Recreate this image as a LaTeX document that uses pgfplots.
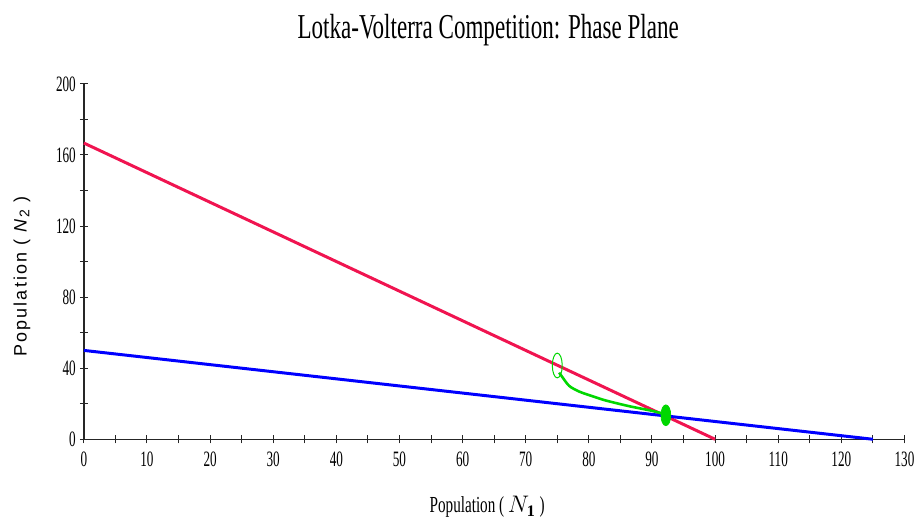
\documentclass[border=0pt]{standalone}
\usepackage{fontspec}
\setmainfont{Liberation Serif}
\newfontfamily\condfont[FakeStretch=0.66]{Liberation Serif}
\newfontfamily\tickfont[FakeStretch=0.6]{Liberation Serif}
\newfontfamily\ylabfont[LetterSpace=12]{Liberation Sans}
\usepackage{pgfplots}
\pgfplotsset{compat=1.18}
\definecolor{redline}{RGB}{240,20,80}
\definecolor{greenline}{RGB}{0,215,0}
\begin{document}
\begin{tikzpicture}
\begin{axis}[
  name=ax,
  scale only axis, width=411pt, height=178pt,
  xmin=0, xmax=130, ymin=0, ymax=200,
  axis lines=left, axis line style={-, black!85, line width=0.7pt},
  xtick={0,10,...,130}, minor x tick num=1,
  ytick={0,40,...,200}, minor y tick num=1,
  tick align=center, major tick length=4pt, minor tick length=4pt,
  tick style={black!85, line width=0.5pt},
  /pgf/number format/assume math mode=true,
  ticklabel style={font=\tickfont\fontsize{11}{11}\selectfont},
  xticklabel style={yshift=-1pt},
  yticklabel style={xshift=1.5pt},
  clip=false,
]
\addplot[redline, line width=1.5pt] coordinates {(0,166.7) (100,0)};
\addplot[blue, line width=1.5pt] coordinates {(0,50) (125,0)};
\addplot[greenline, line width=1.3pt, smooth] coordinates {
  (75.3,37.5) (75.8,35.0) (76.9,30.0) (78.5,26.8) (80.5,24.3) (82.7,21.8) (86.4,18.6) (90.0,16.0) (92.2,14.0)};
\addplot[only marks, greenline, mark=o, mark size=6.2pt, mark options={xscale=0.4, line width=0.5pt}] coordinates {(75,41.5)};
\addplot[only marks, greenline, mark=*, mark size=5.2pt, mark options={xscale=0.47}] coordinates {(92.2,13.5)};
\end{axis}
\node[anchor=base, font=\condfont\fontsize{17.5}{17.5}\selectfont] at ([xshift=-3pt,yshift=22.5pt]ax.north) {Lotka-Volterra Competition: Phase Plane};
\node[font=\condfont\fontsize{11.5}{11.5}\selectfont] at ([xshift=-3.5pt,yshift=-34pt]ax.south) {Population ( $N_{\mathbf{1}}$ )};
\node[rotate=90, font=\ylabfont\fontsize{9}{9}\selectfont] at ([xshift=-31pt,yshift=-7.5pt]ax.west) {Population ( \textit{N}\raisebox{-0.3ex}{\fontsize{7}{7}\selectfont 2} )};
\path ([shift={(-42pt,-43.5pt)}]ax.south west) ([shift={(7.5pt,42pt)}]ax.north east);
\end{tikzpicture}
\end{document}
